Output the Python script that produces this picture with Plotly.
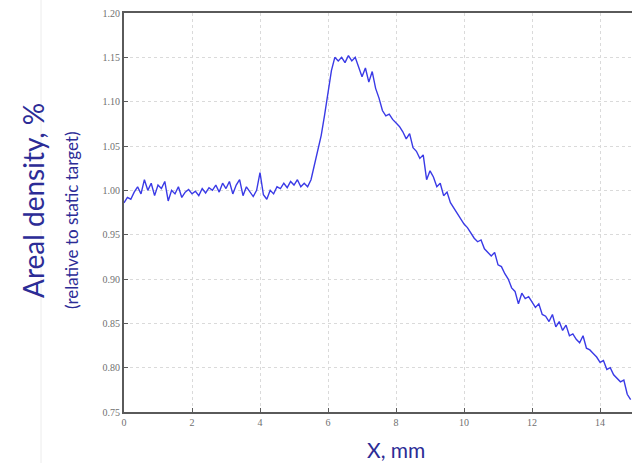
import plotly.graph_objects as go

# Position along the target, mm
x_mm = [round(i * 0.1, 1) for i in range(150)]

# Areal density relative to the static target
density = [
    0.986, 0.992, 0.990, 0.998, 1.004, 0.996, 1.012, 1.000, 1.008, 0.994,
    1.006, 1.002, 1.010, 0.988, 1.000, 0.996, 1.004, 0.992, 0.998, 1.001,
    0.996, 0.999, 0.994, 1.002, 0.997, 1.003, 1.000, 1.006, 0.998, 1.008,
    1.002, 1.010, 0.996, 1.006, 1.012, 0.994, 1.004, 0.998, 0.993, 1.000,
    1.020, 0.995, 0.990, 1.000, 0.996, 1.004, 1.002, 1.008, 1.003, 1.010,
    1.006, 1.012, 1.004, 1.008, 1.004, 1.012, 1.030, 1.045, 1.062, 1.085,
    1.108, 1.135, 1.150, 1.146, 1.150, 1.144, 1.152, 1.146, 1.150, 1.140,
    1.128, 1.138, 1.122, 1.134, 1.115, 1.104, 1.090, 1.084, 1.086, 1.080,
    1.076, 1.072, 1.066, 1.058, 1.064, 1.048, 1.044, 1.036, 1.040, 1.012,
    1.022, 1.015, 1.004, 1.008, 0.994, 0.998, 0.986, 0.980, 0.974, 0.968,
    0.962, 0.958, 0.952, 0.946, 0.942, 0.944, 0.934, 0.930, 0.926, 0.930,
    0.916, 0.914, 0.906, 0.900, 0.890, 0.886, 0.872, 0.884, 0.878, 0.880,
    0.874, 0.868, 0.872, 0.860, 0.858, 0.852, 0.860, 0.846, 0.852, 0.842,
    0.848, 0.836, 0.838, 0.832, 0.828, 0.836, 0.822, 0.820, 0.816, 0.812,
    0.806, 0.808, 0.798, 0.800, 0.792, 0.788, 0.784, 0.786, 0.770, 0.764,
]

x_ticks = [0, 2, 4, 6, 8, 10, 12, 14]
y_ticks = [0.75, 0.80, 0.85, 0.90, 0.95, 1.00, 1.05, 1.10, 1.15, 1.20]
y_labels = [f"{v:.2f}" for v in y_ticks]

title_color = "#2c2c96"
axis_color = "#5a5a5a"
grid_color = "#dadada"
tick_font = dict(family="Liberation Serif", size=10, color="#707070")

fig = go.Figure()
fig.add_trace(go.Scatter(
    x=x_mm, y=density, mode="lines",
    line=dict(color="#3a3ae6", width=1.4),
    showlegend=False, hoverinfo="skip",
))

fig.update_layout(
    width=632, height=463,
    margin=dict(l=124, r=0, t=13, b=51),
    paper_bgcolor="white", plot_bgcolor="white",
    xaxis=dict(
        range=[0, 14.94], tickvals=x_ticks, ticktext=[str(v) for v in x_ticks],
        showline=True, linecolor=axis_color, linewidth=2, mirror=True,
        ticks="inside", ticklen=4, tickcolor=axis_color,
        showgrid=True, gridcolor=grid_color, griddash="dot", gridwidth=1,
        zeroline=False, tickfont=tick_font,
    ),
    yaxis=dict(
        range=[0.75, 1.20], tickvals=y_ticks, ticktext=y_labels,
        showline=True, linecolor=axis_color, linewidth=2,
        ticks="inside", ticklen=4, tickcolor=axis_color,
        showgrid=True, gridcolor=grid_color, griddash="dot", gridwidth=1,
        zeroline=False, tickfont=tick_font,
    ),
    annotations=[
        dict(text="Areal density, %", textangle=-90, xref="paper", yref="paper",
             x=(33 - 124) / 508, y=(412 - 201) / 399, showarrow=False,
             xanchor="center", yanchor="middle",
             font=dict(family="Lato", size=28, color=title_color)),
        dict(text="(relative to static target)", textangle=-90, xref="paper", yref="paper",
             x=(71 - 124) / 508, y=(412 - 221) / 399, showarrow=False,
             xanchor="center", yanchor="middle",
             font=dict(family="Lato", size=17, color=title_color)),
        dict(text="X, mm", xref="paper", yref="paper",
             x=(396 - 124) / 508, y=(412 - 449) / 399, showarrow=False,
             xanchor="center", yanchor="middle",
             font=dict(family="Lato", size=21, color=title_color)),
    ],
    shapes=[
        dict(type="line", xref="paper", yref="paper",
             x0=(41 - 124) / 508, x1=(41 - 124) / 508,
             y0=(412 - 0) / 399, y1=(412 - 463) / 399,
             line=dict(color="#ececec", width=1)),
    ],
)

fig.write_html("out.html")
